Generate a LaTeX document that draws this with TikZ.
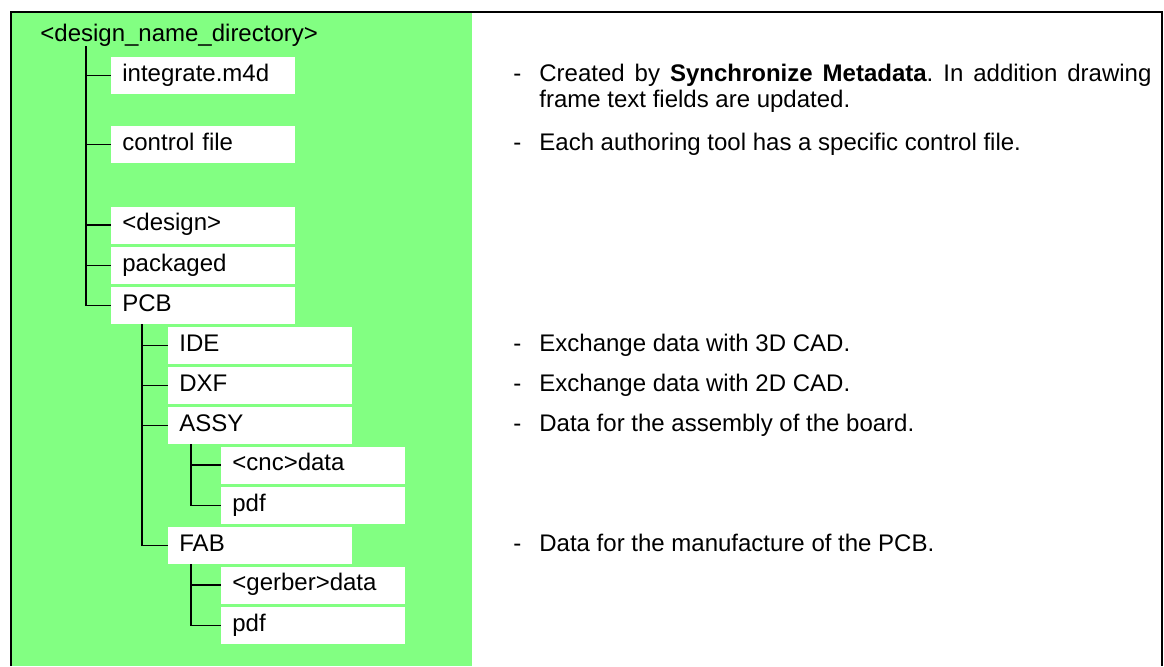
\documentclass[tikz,border=0pt]{standalone}
\usepackage{fontspec}
\setmainfont{Liberation Sans}
\definecolor{dirgreen}{RGB}{130,255,130}
\newcommand{\itemdash}{\leavevmode\llap{-\hspace{9pt}}}
\tikzset{
	file/.style={fill=white,anchor=west,inner xsep=5.5pt,inner ysep=0pt,text width=81pt,minimum height=18.5pt,text height=8.5pt,text depth=3pt,align=left},
	note/.style={anchor=base west,inner sep=0pt,text width=306pt,align=justify},
	branch/.style={line width=.6pt}
}

\begin{document}
\frenchspacing
\begin{tikzpicture}[x=.5pt,y=-.5pt,font=\fontsize{12}{13}\selectfont]
	\useasboundingbox (0,0) rectangle (1164,666);
	\fill[dirgreen] (11,12) rectangle (472,666);
	\draw[line width=.75pt] (11,666) -- (11,12) -- (1162,12) -- (1162,666);
	\node[anchor=base west,inner sep=0pt] (root) at (40,41) {<design\_name\_directory>};
	\foreach \n/\x/\y/\t in {im/111/75.5/integrate.m4d,cf/111/144.5/control file,ds/111/225/<design>,pk/111/265.5/packaged,pcb/111/305.5/PCB,ide/168/345.5/IDE,dxf/168/385.5/DXF,assy/168/425.5/ASSY,cnc/221/465/<cnc>data,pdfa/221/505.5/pdf,fab/168/545.5/FAB,gbr/221/585/<gerber>data,pdff/221/625.5/pdf}
		\node[file] (\n) at (\x,\y) {\t};
	\foreach \c in {im,cf,ds,pk,pcb} \draw[branch] (root.south west) ++(46,0) |- (\c.west);
	\foreach \c in {ide,dxf,assy,fab} \draw[branch] (pcb.south west) ++(31,0) |- (\c.west);
	\foreach \c in {cnc,pdfa} \draw[branch] (assy.south west) ++(23,0) |- (\c.west);
	\foreach \c in {gbr,pdff} \draw[branch] (fab.south west) ++(23,0) |- (\c.west);
	\coordinate (notes) at (539,0);
	\node[note] (n-im) at (im.base -| notes) {\itemdash Created by \textbf{Synchronize Metadata}. In addition drawing frame text fields are updated.};
	\node[note] (n-cf) at (cf.base -| notes) {\itemdash Each authoring tool has a specific control file.};
	\node[note] (n-ide) at (ide.base -| notes) {\itemdash Exchange data with 3D CAD.};
	\node[note] (n-dxf) at (dxf.base -| notes) {\itemdash Exchange data with 2D CAD.};
	\node[note] (n-assy) at (assy.base -| notes) {\itemdash Data for the assembly of the board.};
	\node[note] (n-fab) at (fab.base -| notes) {\itemdash Data for the manufacture of the PCB.};
\end{tikzpicture}
\end{document}
